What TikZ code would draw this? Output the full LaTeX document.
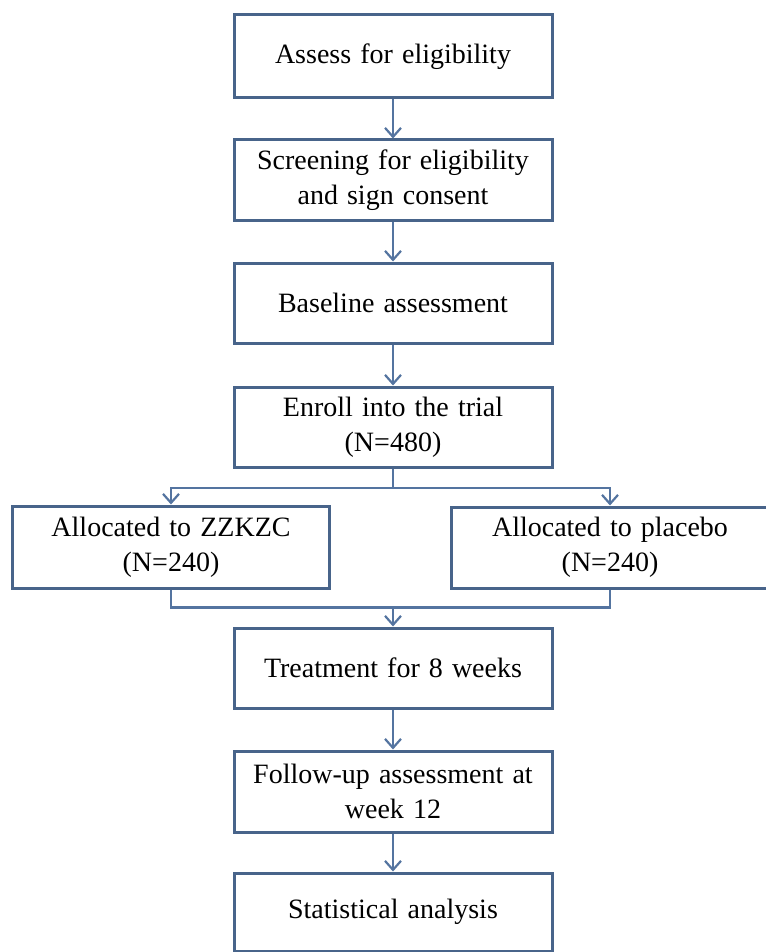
\documentclass[tikz,border=0pt]{standalone}
\usepackage{fontspec}
\setmainfont[WordSpace=1.3]{Liberation Serif}
\usetikzlibrary{arrows.meta}
\definecolor{edge}{RGB}{72,100,138}
\definecolor{conn}{RGB}{84,116,160}
\tikzset{
  box/.style={draw=edge, line width=3pt, rectangle, minimum width=318pt, align=center,
    font=\fontsize{28}{35}\selectfont, inner sep=0pt},
  conline/.style={draw=conn, line width=2.2pt},
  arr/.style={conline, -{Straight Barb[length=9pt,width=16pt,line width=2.2pt]}}
}
\begin{document}
\begin{tikzpicture}[x=1pt,y=-1pt]
\useasboundingbox (0,0) rectangle (765,952);
\node[box, minimum height=83pt] (assess) at (393,56.5) {Assess for eligibility};
\node[box, minimum height=80pt] (screen) at (393,180) {Screening for eligibility\\and sign consent};
\node[box, minimum height=80pt] (base) at (393,303) {Baseline assessment};
\node[box, minimum height=80pt] (enroll) at (393,427) {Enroll into the trial\\(N=480)};
\node[box, minimum width=317pt, minimum height=82pt] (zz) at (171,547) {Allocated to ZZKZC\\(N=240)};
\node[box, minimum height=81pt] (pl) at (610,547.5) {Allocated to placebo\\(N=240)};
\node[box, minimum height=80pt] (treat) at (393,668) {Treatment for 8 weeks};
\node[box, minimum height=81pt] (follow) at (393,791.5) {Follow-up assessment at\\week 12};
\node[box, minimum height=78pt] (stat) at (393,912) {Statistical analysis};
\coordinate (split) at (393,488);
\coordinate (merge) at (393,607.5);
\draw[arr] (assess.south) -- (screen.north);
\draw[arr] (screen.south) -- (base.north);
\draw[arr] (base.south) -- (enroll.north);
\draw[conline] (enroll.south) -- (split);
\draw[arr] (split) -| (zz.north);
\draw[arr] (split) -| (pl.north);
\draw[conline] (zz.south) |- (merge) -| (pl.south);
\draw[arr] (merge) -- (treat.north);
\draw[arr] (treat.south) -- (follow.north);
\draw[arr] (follow.south) -- (stat.north);
\end{tikzpicture}
\end{document}
